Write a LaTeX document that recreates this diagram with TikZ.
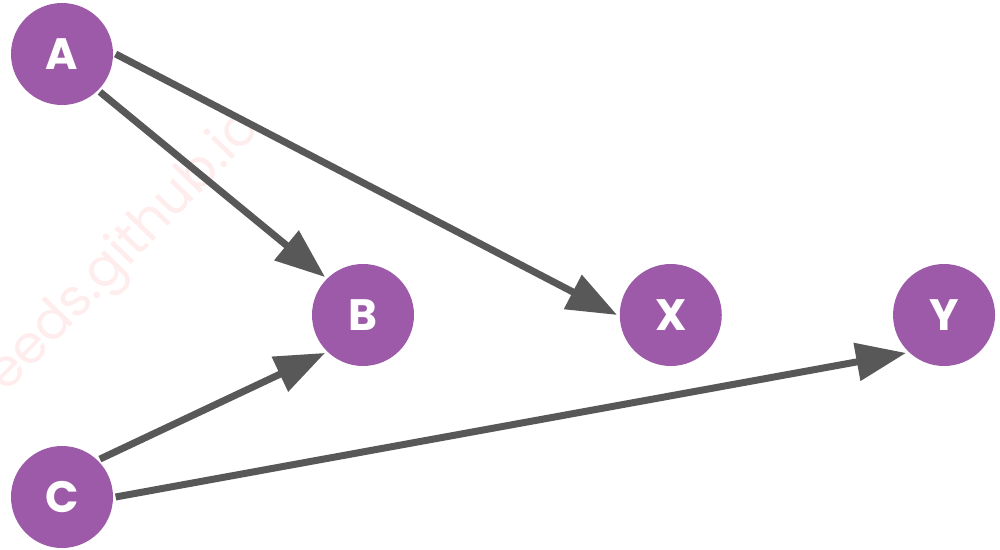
\documentclass[tikz,border=0pt]{standalone}
\usepackage{fontspec}
\usepackage{xcolor}
\usepackage{tikz}
\usetikzlibrary{arrows.meta, positioning}

\newfontfamily\nodefont{Poppins}
\definecolor{vpurple}{RGB}{157,90,169}
\definecolor{edgegray}{RGB}{88,88,88}

\begin{document}
\begin{tikzpicture}[
    var/.style={circle, fill=vpurple, minimum size=2.04cm, inner sep=0pt, outer sep=1.5pt,
      text=white, font=\nodefont\bfseries\fontsize{25}{28}\selectfont},
    arr/.style={-{Triangle[length=1cm, width=0.74cm]}, line width=0.14cm, draw=edgegray}
  ]
  \useasboundingbox (0,0) rectangle (20,-11);
  \node[rotate=46, text=red!7, font=\nodefont\fontsize{30}{34}\selectfont] (mark) at (2.5,-5.05) {eeds.github.io};

  \node[var] (a) at (1.24,-1.08) {A};
  \node[var] (b) at (7.26,-6.30) {B};
  \node[var] (c) at (1.24,-9.94) {C};
  \node[var, right=4.01cm of b] (x) {X};
  \node[var, right=3.32cm of x] (y) {Y};

  \draw[arr] (a.south east) -- (b.north west);
  \draw[arr] (a.east) -- (x.west);
  \draw[arr] (c.north east) -- (b.south west);
  \draw[arr] (c.east) -- (y.south west);
\end{tikzpicture}
\end{document}
